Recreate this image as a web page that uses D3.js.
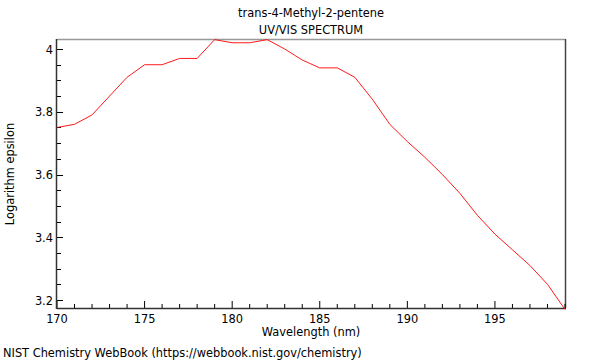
<!DOCTYPE html>
<html><head><meta charset="utf-8">
<script src="https://cdn.jsdelivr.net/npm/d3@7"></script>
<style>body{margin:0;background:#fff}svg{display:block}text{font-family:"DejaVu Sans",sans-serif;fill:#000}</style>
</head><body>
<svg id="c" width="600" height="360"></svg>
<script>
const wavelengths = [170,171,172,173,174,175,176,177,178,179,180,181,182,183,184,185,186,187,188,189,190,191,192,193,194,195,196,197,198,199];
const logEpsilon = [3.75,3.76,3.79,3.85,3.91,3.95,3.95,3.97,3.97,4.03,4.02,4.02,4.03,4.00,3.965,3.94,3.94,3.91,3.84,3.76,3.705,3.655,3.60,3.54,3.47,3.41,3.36,3.31,3.25,3.17];
const xTicks = [170,175,180,185,190,195];
const yTicks = [3.2,3.4,3.6,3.8,4];
const titleLines = ["trans-4-Methyl-2-pentene","UV/VIS SPECTRUM"];

const FS = 11.4;
const svg = d3.select("#c");
const L=57,R=565,T=39,B=308;
const x = d3.scaleLinear().domain([170,199]).range([L,R]);
const y = d3.scaleLinear().domain([3.1745,4.032]).range([B,T]);

// frame top/right
svg.append("line").attr("x1",L).attr("x2",R).attr("y1",T+0.5).attr("y2",T+0.5).attr("stroke","#999").attr("stroke-width",1.5);
svg.append("line").attr("x1",R+0.5).attr("x2",R+0.5).attr("y1",T).attr("y2",B).attr("stroke","#444").attr("stroke-width",1.5);

// x axis
const xMinor = d3.range(170,200,1);
const gx = svg.append("g");
gx.selectAll("line.mi").data(xMinor).join("line").attr("x1",d=>x(d)).attr("x2",d=>x(d)).attr("y1",B).attr("y2",d=>xTicks.includes(d)?B-7:B-4).attr("stroke","#000");
gx.append("line").attr("x1",L).attr("x2",R+1).attr("y1",B+0.5).attr("y2",B+0.5).attr("stroke","#333").attr("stroke-width",1.5);
gx.selectAll("text").data(xTicks).join("text").attr("x",d=>x(d)).attr("y",323).attr("text-anchor","middle").attr("font-size",FS).text(d=>d);

// y axis
const yMinor = d3.range(3.2,4.0001,0.05).map(v=>+v.toFixed(2));
const gy = svg.append("g");
gy.selectAll("line").data(yMinor).join("line").attr("x1",L).attr("x2",d=>yTicks.some(t=>Math.abs(t-d)<1e-6)?L+6:L+4).attr("y1",d=>Math.round(y(d))+0.5).attr("y2",d=>Math.round(y(d))+0.5).attr("stroke","#000");
gy.append("line").attr("x1",L-0.5).attr("x2",L-0.5).attr("y1",T).attr("y2",B+1).attr("stroke","#333").attr("stroke-width",1.5);
gy.selectAll("text").data(yTicks).join("text").attr("x",L-4).attr("y",d=>y(d)+4.5).attr("text-anchor","end").attr("font-size",FS).text(d=>d);

// line
const line = d3.line().x((d,i)=>x(wavelengths[i])).y(d=>y(d));
svg.append("path").datum(logEpsilon).attr("d",line).attr("fill","none").attr("stroke","#ff0000").attr("stroke-width",0.9);

// titles
svg.selectAll("text.t").data(titleLines).join("text").attr("class","t").attr("x",(L+R)/2).attr("y",(d,i)=>17+i*17).attr("text-anchor","middle").attr("font-size",FS).text(d=>d);
svg.append("text").attr("x",(L+R)/2).attr("y",336).attr("text-anchor","middle").attr("font-size",FS).text("Wavelength (nm)");
svg.append("text").attr("transform","translate(14,174) rotate(-90)").attr("text-anchor","middle").attr("font-size",FS).text("Logarithm epsilon");
svg.append("text").attr("x",3).attr("y",357).attr("font-size",FS).text("NIST Chemistry WebBook (https://webbook.nist.gov/chemistry)");
</script>
</body></html>
